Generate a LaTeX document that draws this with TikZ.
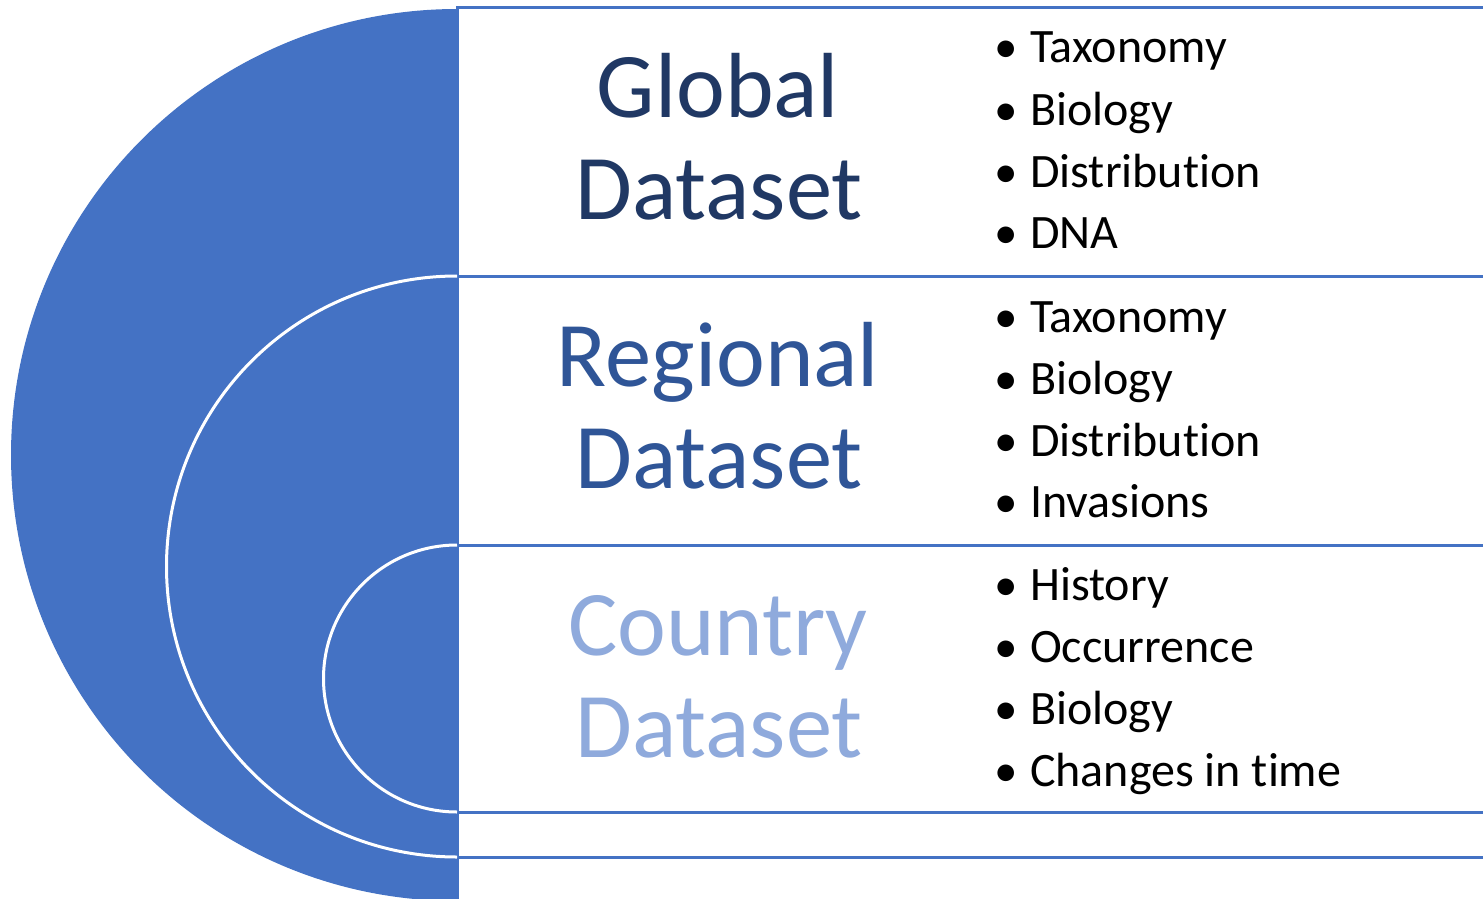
\documentclass[tikz,border=0pt]{standalone}
\usepackage{fontspec}
\setmainfont[Ligatures={NoCommon}]{Carlito}
\definecolor{fillblue}{HTML}{4472C4}
\definecolor{globalc}{HTML}{203864}
\definecolor{regionalc}{HTML}{2F5597}
\definecolor{countryc}{HTML}{8FAADC}
\begin{document}
\begin{tikzpicture}[x=1pt,y=-1pt,
  panel/.style={draw=fillblue,line width=3pt,fill=white},
  whitearc/.style={draw=white,line width=3pt},
  bigtext/.style={anchor=base,inner sep=0pt,font=\fontsize{92.5}{100}\selectfont},
  bul/.style={anchor=base,inner sep=0pt,font=\fontsize{47}{56}\selectfont},
  item/.style={anchor=base west,inner sep=0pt,font=\fontsize{48}{56}\selectfont}]
\useasboundingbox (0,0) rectangle (1483,899);
\begin{scope}
\clip (0,0) rectangle (1483,899);
\fill[white] (0,0) rectangle (1483,899);
% big half disc
\fill[fillblue] (457,9) arc[start angle=270,end angle=90,radius=446] -- cycle;
% panels
\draw[panel] (457,8) rectangle (1500,910);
\draw[panel] (457,276) rectangle (1500,857);
\draw[panel] (457,545) rectangle (1500,812);
% white arcs
\draw[whitearc] (457,276) arc[start angle=270,end angle=90,radius=290.5];
\draw[whitearc] (457,545) arc[start angle=270,end angle=90,radius=133.5];
\end{scope}
% titles
\node[bigtext,text=globalc] (g1) at (718,117) {Global};
\node[bigtext,text=globalc] (g2) at (719,219) {Dataset};
\node[bigtext,text=regionalc] (r1) at (718,386) {Regional};
\node[bigtext,text=regionalc] (r2) at (719,488) {Dataset};
\node[bigtext,text=countryc] (c1) at (718,655) {Country};
\node[bigtext,text=countryc] (c2) at (719,757) {Dataset};
% bullets
\foreach \y/\t [count=\i] in {63/Taxonomy,125/Biology,187/Distribution,248/DNA}{
  \node[bul] (gb\i) at (1006,\y) {•};
  \node[item] (gi\i) at (1030,\y) {\t};
}
\foreach \y/\t [count=\i] in {332/Taxonomy,394/Biology,456/Distribution,517/Invasions}{
  \node[bul] (rb\i) at (1006,\y) {•};
  \node[item] (ri\i) at (1030,\y) {\t};
}
\foreach \y/\t [count=\i] in {600/History,662/Occurrence,724/Biology,786/Changes in time}{
  \node[bul] (cb\i) at (1006,\y) {•};
  \node[item] (ci\i) at (1030,\y) {\t};
}
\end{tikzpicture}
\end{document}
